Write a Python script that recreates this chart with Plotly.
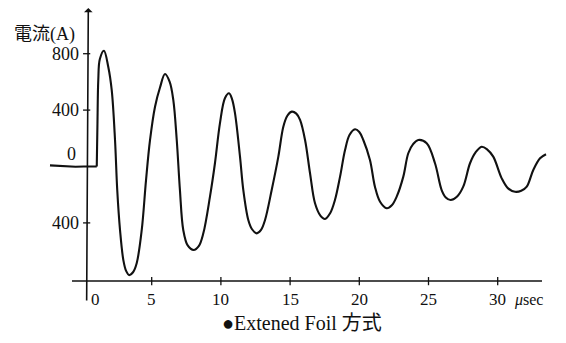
import plotly.graph_objects as go

# --- data ---
# time in microseconds, current in amperes
t_base = [-2.35, -1.7, -1.1, -0.5, 0.1, 0.6, 1.03]
i_base = [8, 4, -3, -2, 0, 2, 0]

t_wave = [1.03, 1.08, 1.14, 1.25, 1.55, 1.86, 2.11, 2.35, 2.51, 2.71, 2.95, 3.15, 3.38,
          3.65, 3.92, 4.28, 4.59, 4.88, 5.24, 5.60, 5.96, 6.30, 6.56, 6.81, 7.04, 7.28,
          7.60, 8.03, 8.40, 8.73, 9.21, 9.57, 9.93, 10.29, 10.59, 10.80, 11.02, 11.38,
          11.62, 11.98, 12.25, 12.59, 12.90, 13.19, 13.67, 14.15, 14.51, 14.80, 15.12,
          15.45, 15.72, 16.08, 16.44, 16.80, 17.20, 17.52, 17.90, 18.24, 18.61, 18.97,
          19.30, 19.69, 20.00, 20.29, 20.77, 21.13, 21.50, 21.98, 22.35, 22.70, 23.18,
          23.54, 23.90, 24.26, 24.87, 25.47, 25.95, 26.25, 26.60, 27.05, 27.51, 28.00,
          28.40, 28.84, 29.25, 29.68, 30.29, 30.75, 31.25, 31.70, 32.10, 32.57, 33.06,
          33.49]
i_wave = [0, 300, 613, 760, 821, 708, 543, 188, -167, -450, -663, -740, -770,
          -750, -684, -450, -96, 188, 424, 560, 656, 600, 472, 188, -167, -450,
          -560, -592, -565, -474, -214, 23, 306, 484, 519, 480, 377, 70,
          -167, -379, -445, -474, -450, -379, -167, 70, 282, 360, 389,
          375, 330, 188, -48, -261, -350, -372, -330, -238, -72, 117,
          225, 264, 245, 188, 46, -143, -250, -296, -275, -214, -72,
          94, 160, 188, 165, 23, -167, -220, -238, -215, -143, 23,
          100, 140, 120, 70, -84, -155, -179, -172, -143, -25, 58,
          87]

x_tick_vals = [0, 5, 10, 15, 20, 25, 30]
x_tick_text = ["0", "5", "10", "15", "20", "25", "30"]
y_tick_vals = [800, 400, 0, -400]
y_tick_text = ["800", "400", "0", "400"]

y_label = "電流(A)"
x_unit = "<i>μ</i>sec"
caption = "●Extened Foil 方式"

# --- styling / layout constants ---
INK = "#111111"
NUM_FONT = "Liberation Serif, Noto Sans CJK JP, serif"
AXIS_X = 0.3          # position of the vertical axis (in µs)
AXIS_Y = -812         # position of the horizontal axis (in A)
X_RANGE = [-5.961, 34.935]
Y_RANGE = [-1251.8, 1180.9]

fig = go.Figure()
fig.add_trace(go.Scatter(x=t_base, y=i_base, mode="lines",
                         line=dict(color=INK, width=2.1), hoverinfo="skip"))
fig.add_trace(go.Scatter(x=t_wave, y=i_wave, mode="lines",
                         line=dict(color=INK, width=2.1, shape="spline", smoothing=1.0),
                         hoverinfo="skip"))

shapes = []
annotations = []

# horizontal axis line
shapes.append(dict(type="line", xref="x", yref="y", x0=-0.76, x1=33.2, y0=AXIS_Y, y1=AXIS_Y,
                   line=dict(color=INK, width=1.6)))
# x ticks
for v, txt in zip(x_tick_vals, x_tick_text):
    if v != 0:
        shapes.append(dict(type="line", xref="x", yref="y", x0=v, x1=v,
                           y0=AXIS_Y + 28, y1=AXIS_Y - 30, line=dict(color=INK, width=1.3)))
    annotations.append(dict(x=v, y=AXIS_Y, xref="x", yref="y", text=txt, showarrow=False,
                            xanchor="center", yanchor="middle", yshift=-19,
                            xshift=12.5 if v == 0 else 0,
                            font=dict(family=NUM_FONT, size=17, color=INK)))
# y ticks
for v, txt in zip(y_tick_vals, y_tick_text):
    if v != 0:
        shapes.append(dict(type="line", xref="x", yref="y", x0=AXIS_X - 0.26, x1=AXIS_X + 0.26,
                           y0=v, y1=v, line=dict(color=INK, width=1.3)))
    annotations.append(dict(x=AXIS_X, y=v, xref="x", yref="y", text=txt, showarrow=False,
                            xanchor="right", yanchor="middle",
                            xshift=-9 if v == 0 else -6,
                            yshift=13 if v == 0 else 0,
                            font=dict(family=NUM_FONT, size=18, color=INK)))

# vertical axis with arrow head
annotations.append(dict(x=AXIS_X + 0.12, y=1124, ax=AXIS_X, ay=-961, xref="x", yref="y",
                        axref="x", ayref="y", text="", showarrow=True, arrowhead=1,
                        arrowsize=0.9, arrowwidth=1.6, arrowcolor=INK, standoff=0,
                        startstandoff=0))

# axis titles and caption
annotations.append(dict(x=-2.78, y=933, xref="x", yref="y", text=y_label, showarrow=False,
                        xanchor="center", yanchor="middle",
                        font=dict(family=NUM_FONT, size=18, color=INK)))
annotations.append(dict(x=32.26, y=AXIS_Y, xref="x", yref="y", text=x_unit, showarrow=False,
                        xanchor="center", yanchor="middle", yshift=-19,
                        font=dict(family=NUM_FONT, size=16, color=INK)))
annotations.append(dict(x=302 / 566, y=1 - 323 / 343, xref="paper", yref="paper",
                        text=caption, showarrow=False, xanchor="center", yanchor="middle",
                        font=dict(family=NUM_FONT, size=20, color=INK)))

fig.update_layout(
    width=566, height=343, autosize=False,
    margin=dict(l=0, r=0, t=0, b=0, pad=0),
    paper_bgcolor="white", plot_bgcolor="white",
    showlegend=False,
    xaxis=dict(range=X_RANGE, visible=False, fixedrange=True),
    yaxis=dict(range=Y_RANGE, visible=False, fixedrange=True),
    shapes=shapes, annotations=annotations,
)

fig.write_html("out.html")
